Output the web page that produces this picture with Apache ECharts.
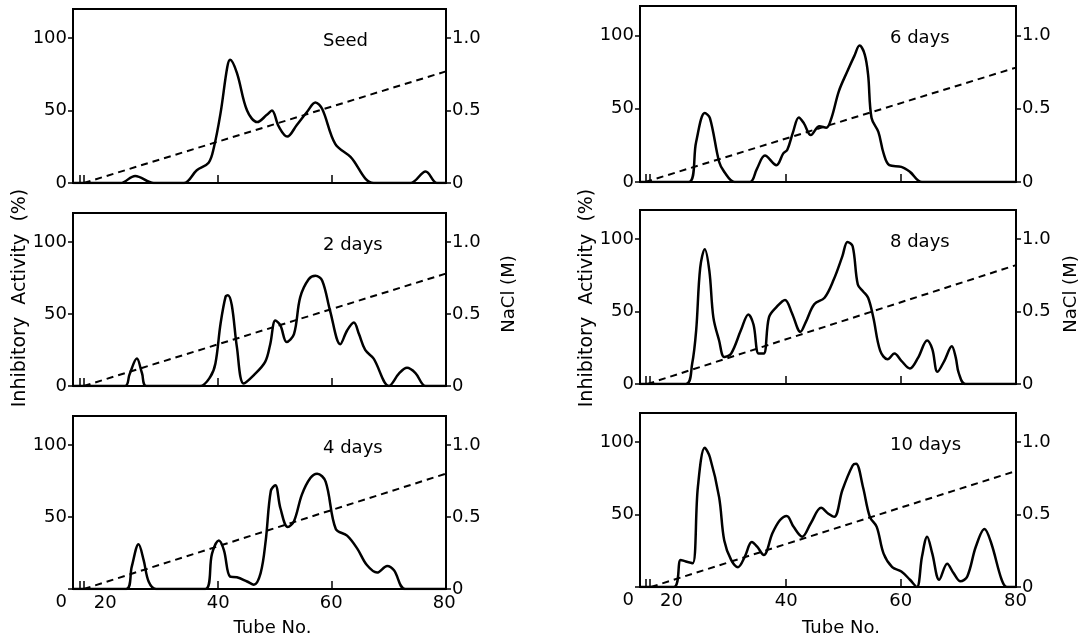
<!DOCTYPE html>
<html>
<head>
<meta charset="utf-8">
<script src="https://cdn.jsdelivr.net/npm/echarts@6/dist/echarts.min.js"></script>
<style>
  html, body { margin: 0; padding: 0; background: #fff; }
  #chart { width: 1085px; height: 643px; }
</style>
</head>
<body>
<div id="chart"></div>
<script>
  // tube no. vs inhibitory activity (%)
  var seed = [[14.3,0],[22.7,0],[25.3,4.9],[28.6,0],[33.9,0],[36.2,8.8],[38.3,14],[39.2,24],[40.4,48],[41.6,80],[42.1,85],[43.3,76],[45.1,50],[46.9,42],[48.6,47],[49.5,50],[50.7,39],[52.2,32],[53.9,40],[55.7,49],[57.2,55.5],[58.4,51],[60.7,27],[63.4,18],[67.5,0],[74,0],[76.7,8],[78.7,0],[80.3,0]];
  var day2 = [[14.3,0],[23.5,0],[24.3,8],[25.6,19],[26.5,9],[27.3,0],[36.8,0],[38.6,6.4],[39.5,15.6],[40.4,43],[41.3,62],[41.7,63],[42.4,56],[43.3,27],[44.5,1.8],[46.3,7.6],[48.3,16.7],[49.2,29],[50.1,45.4],[51.0,42],[52.1,30.5],[53.4,36],[54.5,61.5],[56.0,74],[57.2,76.4],[58.4,73],[59.8,52],[61.6,29],[62.8,38.5],[64.0,44],[64.9,36],[66.0,25],[67.5,19],[70.2,0],[72.0,8.7],[73.4,12.6],[74.9,9],[76.7,0],[80.3,0]];
  var day4 = [[14.3,0],[23.7,0],[24.7,15.5],[25.9,31],[26.8,20],[27.7,5],[29.0,0],[37.7,0],[38.9,24.5],[40.1,33.6],[41.0,27],[42.1,8.6],[43.3,8.2],[45.1,5.2],[46.3,3],[47.5,11],[48.4,33.6],[49.3,68],[50.1,72],[51.0,56],[52.3,43],[53.4,47],[54.8,65.5],[56.3,77],[57.5,80],[59.0,74.5],[60.8,41.6],[62.8,37],[64.6,28],[66.3,16.6],[68.1,11.4],[69.9,16],[71.1,13],[73.1,0],[80.3,0]];
  var day6 = [[14.5,0],[23.0,0],[24.3,27.5],[25.8,47],[26.7,43.6],[28.3,13.8],[29.2,6.9],[31.0,0],[33.7,0],[34.9,9],[36.3,18],[38.3,11.5],[39.5,19.5],[40.2,22],[41.2,34],[42.2,44],[43.1,40],[44.3,32],[45.8,38],[47.0,37],[47.9,43.6],[49.2,62],[50.7,75.7],[51.9,86],[52.8,93],[53.7,87],[54.3,73],[54.9,43.6],[56.1,34],[57.0,19.5],[58.0,11.5],[60.1,10.3],[61.6,6.9],[63.7,0],[80.1,0]];
  var day8 = [[14.5,0],[22.5,0],[23.6,14],[24.3,37],[25.0,80],[25.8,93],[26.6,78],[27.3,46],[28.3,30],[29.2,18.6],[30.4,21],[32.1,37],[33.4,48],[34.3,41],[35.2,21],[36.1,21],[37.0,46],[38.3,53],[39.8,58],[41.0,49],[42.5,36],[43.4,42.5],[44.9,55],[46.7,59.5],[48.3,72],[49.8,88],[50.7,98],[51.6,95],[52.5,68.6],[53.4,64],[54.3,59.5],[55.2,46],[56.4,23],[57.7,17],[58.9,21],[60.1,16],[61.6,10.7],[63.0,18],[64.6,30],[65.5,24],[66.4,8.4],[67.6,16],[68.9,26],[69.6,18],[70.1,7.7],[71.3,0],[80.1,0]];
  var day10 = [[14.5,0],[20.4,0],[21.6,18.7],[22.5,17.6],[23.7,16.4],[24.6,69],[25.8,96],[26.7,89.5],[28.3,62],[29.2,32],[30.4,18.7],[31.6,13.7],[32.8,21],[34.0,31],[34.9,28],[36.1,22],[37.6,37],[38.9,46],[40.1,49],[41.3,41.5],[42.8,34.7],[44.3,44],[46.1,54.6],[47.3,50.7],[48.4,48.4],[49.8,66.7],[51.6,83.8],[52.2,85],[53.4,69],[54.6,48.4],[55.8,41.5],[57.0,23],[58.5,13.7],[60.1,10.7],[61.6,5],[62.8,0],[63.7,21],[64.6,34.7],[65.5,23],[66.7,5],[68.1,16],[69.2,9.6],[70.4,3.9],[71.6,7.3],[73.1,27.9],[74.6,40],[75.8,30],[77.6,5],[78.5,0],[80.1,0]];

  // NaCl gradient (M), start and end of the dashed line
  var naclSeed = [[16.2,0],[80.3,0.77]];
  var nacl2 = [[16.2,0],[80.3,0.78]];
  var nacl4 = [[16.2,0],[80.3,0.80]];
  var nacl6 = [[15.4,0],[80.1,0.78]];
  var nacl8 = [[15.8,0],[80.1,0.82]];
  var nacl10 = [[16.4,0],[80.1,0.80]];

  var panelNames = ['Seed', '2 days', '4 days', '6 days', '8 days', '10 days'];
  var activity = [seed, day2, day4, day6, day8, day10];
  var nacl = [naclSeed, nacl2, nacl4, nacl6, nacl8, nacl10];

  var xTicks = [20, 40, 60, 80];
  var actTicks = [0, 50, 100];
  var naclTicks = [0, 0.5, 1.0];

  // panel boxes (px)
  var boxes = [
    {left: 73, top: 9, width: 373, height: 174, xmin: 14.3, xmax: 80.3},
    {left: 73, top: 213, width: 373, height: 173, xmin: 14.3, xmax: 80.3},
    {left: 73, top: 416, width: 373, height: 173, xmin: 14.3, xmax: 80.3},
    {left: 640, top: 6, width: 376, height: 176, xmin: 14.5, xmax: 80.1},
    {left: 640, top: 210, width: 376, height: 174, xmin: 14.5, xmax: 80.1},
    {left: 640, top: 413, width: 376, height: 174, xmin: 14.5, xmax: 80.1}
  ];

  var font = 'DejaVu Sans';
  var grids = [], xAxes = [], yAxes = [], series = [], texts = [];

  boxes.forEach(function (b, i) {
    var bottom = (i === 2 || i === 5);
    var middle = (i === 1 || i === 4);
    grids.push({
      left: b.left, top: b.top, width: b.width, height: b.height,
      show: true, borderColor: '#000', borderWidth: 2
    });
    xAxes.push({
      gridIndex: i, type: 'value', min: b.xmin, max: b.xmax,
      axisLine: {show: true, onZero: false, lineStyle: {color: '#000', width: 2}},
      axisTick: {show: true, inside: true, length: 8, customValues: [15.5, 16.2, 40, 60],
        lineStyle: {color: '#000', width: 1.5}},
      axisLabel: {show: bottom, customValues: xTicks, color: '#000', fontSize: 18,
        fontFamily: font, margin: 5},
      splitLine: {show: false}
    });
    yAxes.push({
      gridIndex: i, type: 'value', min: 0, max: 120, position: 'left',
      axisLine: {show: true, lineStyle: {color: '#000', width: 2}},
      axisTick: {show: true, length: 5, customValues: actTicks, lineStyle: {color: '#000', width: 1.5}},
      axisLabel: {customValues: actTicks, color: '#000', fontSize: 18, fontFamily: font, margin: 6,
        formatter: function (v) { return (bottom && v === 0) ? '{lo|0}' : String(v); },
        rich: {lo: {fontSize: 18, fontFamily: font, color: '#000', padding: [26, 0, 0, 0]}}},
      splitLine: {show: false}
    });
    yAxes.push({
      gridIndex: i, type: 'value', min: 0, max: 1.2, position: 'right',
      axisLine: {show: true, lineStyle: {color: '#000', width: 2}},
      axisTick: {show: true, length: 5, customValues: naclTicks, lineStyle: {color: '#000', width: 1.5}},
      axisLabel: {customValues: naclTicks, color: '#000', fontSize: 18, fontFamily: font, margin: 6,
        formatter: function (v) { return v === 0 ? '0' : v.toFixed(1); }},
      splitLine: {show: false}
    });
    series.push({
      type: 'line', xAxisIndex: i, yAxisIndex: 2 * i, data: activity[i],
      showSymbol: false, smooth: 0.35, lineStyle: {color: '#000', width: 2.5}
    });
    series.push({
      type: 'line', xAxisIndex: i, yAxisIndex: 2 * i + 1, data: nacl[i],
      showSymbol: false, lineStyle: {color: '#000', width: 2, type: [7, 5]}
    });
    texts.push({
      type: 'text', x: b.left + 250, y: b.top + 32,
      style: {text: panelNames[i], fill: '#000', font: '18px "DejaVu Sans"', textVerticalAlign: 'middle'}
    });
    if (bottom) {
      texts.push({
        type: 'text', x: b.left + b.width / 2 + 13, y: 628,
        style: {text: 'Tube No.', fill: '#000', font: '18px "DejaVu Sans"',
          textAlign: 'center', textVerticalAlign: 'middle'}
      });
    }
    if (middle) {
      texts.push({
        type: 'text', x: b.left - (i === 1 ? 53 : 53), y: 298, rotation: Math.PI / 2,
        style: {text: 'Inhibitory  Activity  (%)', fill: '#000', font: '19px "DejaVu Sans"',
          textAlign: 'center', textVerticalAlign: 'middle'}
      });
      texts.push({
        type: 'text', x: b.left + b.width + (i === 1 ? 63 : 55), y: 294, rotation: Math.PI / 2,
        style: {text: 'NaCl (M)', fill: '#000', font: '18px "DejaVu Sans"',
          textAlign: 'center', textVerticalAlign: 'middle'}
      });
    }
  });

  var chart = echarts.init(document.getElementById('chart'));
  chart.setOption({
    animation: false,
    backgroundColor: '#fff',
    grid: grids,
    xAxis: xAxes,
    yAxis: yAxes,
    series: series,
    graphic: texts
  });
</script>
</body>
</html>
